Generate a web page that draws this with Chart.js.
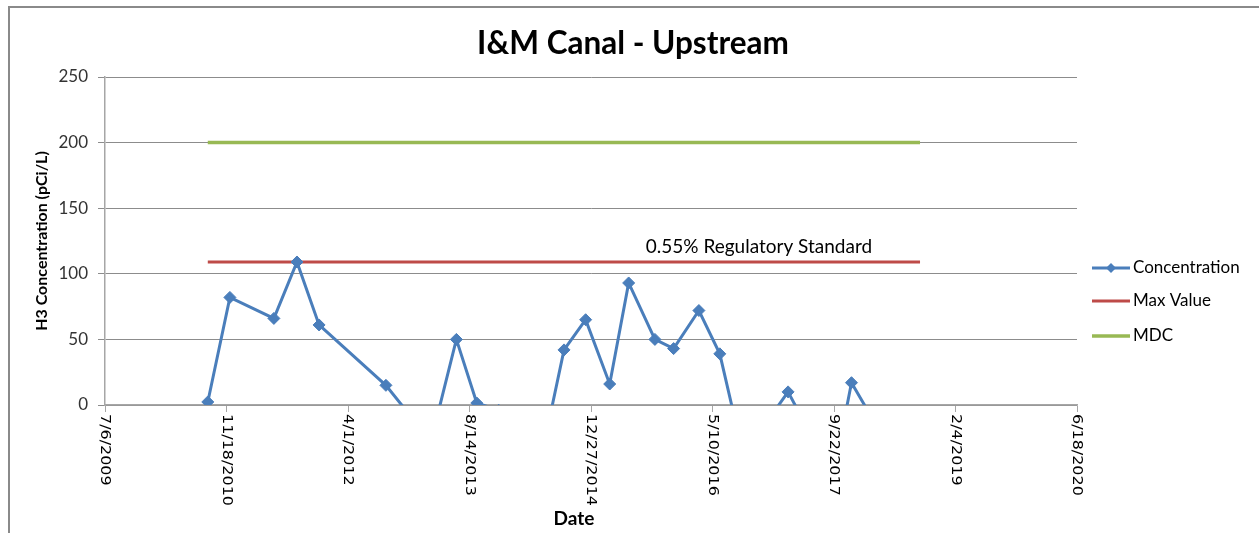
<!DOCTYPE html>
<html>
<head>
<meta charset="utf-8">
<title>I&amp;M Canal - Upstream</title>
<script src="https://cdn.jsdelivr.net/npm/chart.js@4.4.1/dist/chart.umd.min.js"></script>
<style>
  html, body { margin: 0; padding: 0; background: #fff; }
</style>
</head>
<body>
<canvas id="chart" width="1259" height="533"></canvas>
<script>
// sample dates (M/D/YYYY) and H3 results, pCi/L (negatives run off the bottom of the plot)
const sampleDates = [
  '9/2/2010', '12/2/2010', '6/1/2011', '9/4/2011', '12/4/2011', '9/4/2012',
  '12/4/2012', '3/4/2013', '6/21/2013', '9/13/2013', '12/12/2013', '3/13/2014',
  '6/11/2014', '9/7/2014', '12/5/2014', '3/14/2015', '5/31/2015', '9/16/2015',
  '12/2/2015', '3/15/2016', '6/9/2016', '9/7/2016', '12/15/2016', '3/17/2017',
  '6/14/2017', '9/13/2017', '12/3/2017', '3/1/2018', '6/7/2018', '9/11/2018'
];
const concentration = [
  2.3, 82, 66, 109, 61, 15,
  -6, -31, 50, 1.5, -4, -20,
  -35, 42, 65, 16, 93, 50,
  43, 72, 39, -33, -14, 10,
  -21, -60, 17, -11, -20, -15
];

const limitDates = ['9/2/2010', '9/11/2018'];
const maxValue = [109, 109];
const mdcValue = [200, 200];

const seriesNames = ['Concentration', 'Max Value', 'MDC'];

const xRange = ['7/6/2009', '6/18/2020'];
const xStepDays = 500;
const yRange = [0, 250];
const yStep = 50;

const chartTitle = 'I&M Canal - Upstream';
const standardLabel = '0.55% Regulatory Standard';
const standardLabelDate = '11/17/2016';
const standardLabelValue = 120.5;

// Excel-style day serial so the 500 day ticks land on 7/6/2009 etc.
function toSerial(s) {
  const [m, d, y] = s.split('/').map(Number);
  return Date.UTC(y, m - 1, d) / 86400000 + 25569;
}
function fromSerial(n) {
  const dt = new Date((n - 25569) * 86400000);
  return (dt.getUTCMonth() + 1) + '/' + dt.getUTCDate() + '/' + dt.getUTCFullYear();
}

const BLUE = '#4A7EBB';
const RED = '#BE4B48';
const GREEN = '#98B954';
const AXIS = '#a6a6a6';

const framePlugin = {
  id: 'frame',
  beforeDraw(chart) {
    const ctx = chart.ctx;
    ctx.save();
    ctx.fillStyle = '#fff';
    ctx.fillRect(0, 0, chart.width, chart.height);
    ctx.strokeStyle = '#8a8a8a';
    ctx.lineWidth = 2;
    ctx.beginPath();
    ctx.moveTo(9, chart.height);
    ctx.lineTo(9, 7);
    ctx.lineTo(chart.width, 7);
    ctx.stroke();

    // chart title, centred on the whole frame like the original
    ctx.fillStyle = '#000';
    ctx.font = 'bold 31.5px Lato';
    ctx.textAlign = 'center';
    ctx.textBaseline = 'middle';
    ctx.fillText(chartTitle, 633, 44);
    ctx.restore();
  }
};

const extrasPlugin = {
  id: 'extras',
  afterDraw(chart) {
    const ctx = chart.ctx;
    const xs = chart.scales.x;
    const ys = chart.scales.y;
    const area = chart.chartArea;
    ctx.save();

    // x tick labels, rotated clockwise and reading downward
    ctx.fillStyle = '#000';
    ctx.font = '14.5px "DejaVu Sans"';
    ctx.textAlign = 'left';
    ctx.textBaseline = 'middle';
    xs.ticks.forEach(t => {
      const px = xs.getPixelForValue(t.value);
      ctx.save();
      ctx.translate(px, area.bottom + 9);
      ctx.rotate(Math.PI / 2);
      ctx.scale(1.1, 1);
      ctx.fillText(fromSerial(t.value), 0, 0);
      ctx.restore();
    });

    // x axis title
    ctx.fillStyle = '#000';
    ctx.font = 'bold 19px Lato';
    ctx.textAlign = 'center';
    ctx.fillText('Date', 574, 519);

    // regulatory standard note
    ctx.font = '19px Lato';
    ctx.fillText(standardLabel, xs.getPixelForValue(toSerial(standardLabelDate)),
      ys.getPixelForValue(standardLabelValue));

    // legend
    const rows = [268, 301, 336];
    chart.data.datasets.forEach((ds, i) => {
      const y = rows[i];
      ctx.strokeStyle = ds.borderColor;
      ctx.lineWidth = ds.borderWidth;
      ctx.beginPath();
      ctx.moveTo(1092, y);
      ctx.lineTo(1130, y);
      ctx.stroke();
      if (ds.pointRadius > 0) {
        ctx.fillStyle = ds.borderColor;
        ctx.beginPath();
        ctx.moveTo(1111, y - 5);
        ctx.lineTo(1116, y);
        ctx.lineTo(1111, y + 5);
        ctx.lineTo(1106, y);
        ctx.closePath();
        ctx.fill();
      }
      ctx.fillStyle = '#000';
      ctx.font = '17px Lato';
      ctx.textAlign = 'left';
      ctx.textBaseline = 'middle';
      ctx.fillText(ds.label, 1133, y);
    });
    ctx.restore();
  }
};

new Chart(document.getElementById('chart'), {
  type: 'line',
  data: {
    datasets: [
      {
        label: seriesNames[0],
        data: sampleDates.map((d, i) => ({ x: toSerial(d), y: concentration[i] })),
        borderColor: BLUE,
        backgroundColor: BLUE,
        borderWidth: 3,
        pointStyle: 'rectRot',
        pointRadius: 6,
        pointHoverRadius: 6,
        pointBorderWidth: 1,
        tension: 0,
        clip: 0
      },
      {
        label: seriesNames[1],
        data: limitDates.map((d, i) => ({ x: toSerial(d), y: maxValue[i] })),
        borderColor: RED,
        backgroundColor: RED,
        borderWidth: 3,
        pointRadius: 0,
        clip: 0
      },
      {
        label: seriesNames[2],
        data: limitDates.map((d, i) => ({ x: toSerial(d), y: mdcValue[i] })),
        borderColor: GREEN,
        backgroundColor: GREEN,
        borderWidth: 3.5,
        pointRadius: 0,
        clip: 0
      }
    ]
  },
  options: {
    responsive: false,
    animation: false,
    devicePixelRatio: 1,
    layout: { padding: { left: 0, right: 182, top: 77, bottom: 0 } },
    plugins: {
      legend: { display: false },
      tooltip: { enabled: false },
      title: { display: false }
    },
    scales: {
      x: {
        type: 'linear',
        min: toSerial(xRange[0]),
        max: toSerial(xRange[1]),
        ticks: { stepSize: xStepDays, display: false },
        grid: { drawOnChartArea: false, drawTicks: true, tickLength: 7, color: AXIS, lineWidth: 1 },
        border: { color: AXIS, width: 1.5 },
        afterFit(s) { s.height = 128; }
      },
      y: {
        min: yRange[0],
        max: yRange[1],
        ticks: {
          stepSize: yStep,
          color: '#333',
          padding: 10,
          font: { family: 'Lato', size: 17 }
        },
        grid: { color: '#8c8c8c', lineWidth: 1, tickLength: 7 },
        border: { color: AXIS, width: 1.5 },
        title: {
          display: true,
          text: 'H3 Concentration (pCi/L)',
          color: '#000',
          font: { family: 'Lato', size: 16, weight: 'bold' },
          padding: { top: 32 }
        },
        afterFit(s) { s.width = 105; }
      }
    }
  },
  plugins: [framePlugin, extrasPlugin]
});
</script>
</body>
</html>
